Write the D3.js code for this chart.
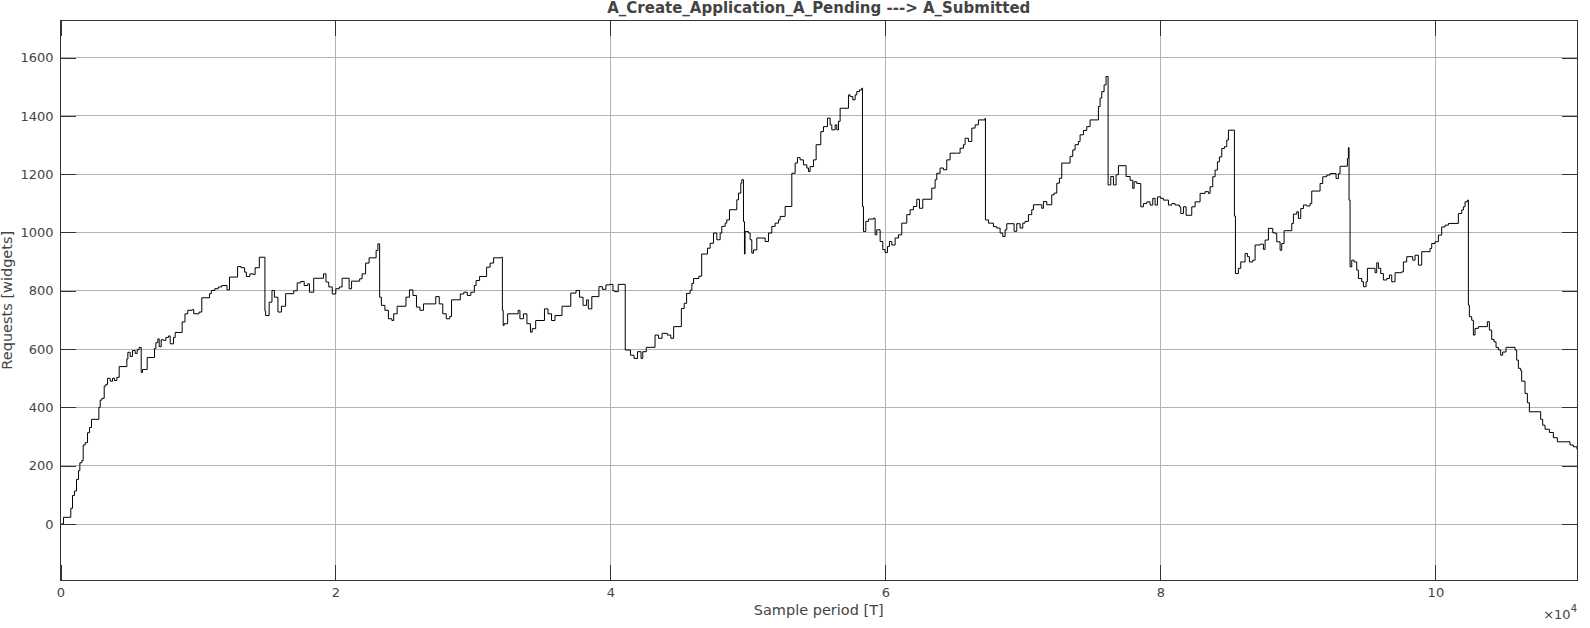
<!DOCTYPE html>
<html>
<head>
<meta charset="utf-8">
<script src="https://cdn.jsdelivr.net/npm/d3@7"></script>
<style>
  body { margin: 0; background: #fff; }
  svg { display: block; font-family: "DejaVu Sans", sans-serif; }
</style>
</head>
<body>
<script>
// sample index where each step starts, and the value held from there on
const samples = [
    0, 220, 750, 875, 1020, 1166, 1311, 1408, 1554, 1651, 1796, 1966, 2111, 2257, 2790, 2887, 3008, 3178, 3299, 3420,
    3614, 3784, 3929, 4099, 4268, 4826, 4899, 5069, 5238, 5432, 5578, 5723, 5869, 5966, 6305, 6839, 6936, 7081, 7178, 7323,
    7493, 7662, 7856, 7977, 8220, 8341, 8849, 9053, 9257, 9564, 9691, 10074, 10278, 10839, 10967, 11222, 11477, 11732, 12114, 12293,
    12880, 13135, 13390, 13517, 13773, 14028, 14155, 14461, 14869, 14921, 15176, 15380, 15558, 15814, 16069, 16375, 16962, 17216, 17471, 17726,
    17981, 18109, 18415, 19130, 19308, 19512, 19767, 20023, 20278, 20482, 20992, 21170, 21757, 21936, 22191, 22446, 22956, 23084, 23211, 23339,
    23594, 23849, 24104, 24232, 24487, 25125, 25380, 25635, 25890, 26145, 26400, 27293, 27548, 27803, 28058, 28313, 28441, 29079, 29334, 29589,
    29844, 30099, 30227, 30482, 30992, 31247, 31502, 32063, 32140, 32200, 32268, 32523, 33288, 33416, 33671, 33926, 34181, 34308, 34563, 35201,
    35456, 35711, 35966, 36476, 37114, 37497, 37752, 38007, 38262, 38390, 38645, 39162, 39417, 39672, 39927, 40182, 40310, 40565, 41075, 41458,
    41713, 41968, 42223, 42351, 42606, 43243, 43498, 43754, 44136, 44391, 44595, 45157, 45361, 45539, 45794, 45922, 46049, 46432, 46636, 47057,
    47251, 47494, 47736, 47978, 48100, 48342, 48463, 48657, 49190, 49312, 49481, 49554, 49675, 49748, 49790, 50039, 50160, 50281, 50402, 50645,
    51251, 51493, 51736, 51978, 52220, 52342, 52705, 53190, 53432, 53602, 53796, 54038, 54281, 54402, 54523, 54766, 54960, 55299, 55493, 55784,
    55978, 56099, 56341, 56462, 56584, 56705, 57311, 57432, 57626, 57796, 57917, 58111, 58280, 58329, 58402, 58571, 58765, 59129, 59250, 59371,
    59614, 59808, 59977, 60147, 60292, 60462, 60704, 60947, 61189, 61553, 61795, 62038, 62280, 62474, 62716, 63371, 63613, 63734, 63977, 64219,
    64462, 64704, 65189, 65431, 65674, 65795, 66037, 66280, 66522, 66764, 67249, 67273, 67492, 67855, 68098, 68340, 68534, 68704, 68825, 69358,
    69552, 69794, 69988, 70158, 70400, 70643, 70764, 71370, 71491, 71734, 72097, 72267, 72461, 72655, 72824, 73430, 73624, 73794, 74036, 74158,
    74400, 74642, 74885, 75491, 75612, 75733, 75903, 76048, 76194, 76389, 76582, 76776, 76946, 77503, 77796, 77990, 78087, 78281, 78572, 78766,
    79008, 79250, 79444, 79614, 79784, 80026, 80220, 80584, 80826, 81068, 81384, 81480, 81674, 81868, 82280, 82523, 82886, 83250, 83492, 83614,
    83808, 83977, 84147, 84292, 84462, 84656, 84826, 84947, 85383, 85456, 85674, 85844, 86159, 86328, 86474, 86716, 86886, 87250, 87492, 87613,
    87856, 88171, 88340, 88462, 88704, 88825, 88995, 89552, 89674, 89916, 90037, 90207, 90401, 90643, 90886, 91007, 91613, 91807, 92098, 92340,
    92776, 92946, 93067, 93600, 93673, 93721, 93794, 93916, 94085, 94279, 94400, 94643, 94764, 94958, 95055, 95612, 95734, 95855, 96024, 96218,
    96461, 96655, 96824, 97067, 97552, 97673, 97915, 98352, 98521, 98764, 99006, 99612, 99733, 99976, 100218, 100460, 100703, 100945, 101672, 101915,
    102036, 102157, 102327, 102400, 102472, 102642, 102763, 102884, 103127, 103781, 103927, 104096, 104266, 104411, 104581, 104751, 104896, 105139, 105793, 105914,
    106036, 106205, 106278, 106520, 106690, 106836, 107660, 107805, 107975, 108290, 108581, 108872, 109793, 110035, 110300
];
const requests = [
    0, 23, 54, 98, 113, 153, 183, 210, 218, 271, 279, 313, 331, 359, 400, 425, 431, 473, 479, 500,
    490, 500, 492, 503, 540, 566, 589, 575, 595, 585, 598, 606, 520, 530, 571, 602, 622, 635, 608, 632,
    630, 640, 645, 618, 640, 657, 693, 721, 733, 735, 721, 727, 776, 790, 801, 807, 813, 818, 803, 847,
    883, 879, 864, 849, 858, 856, 879, 915, 730, 715, 761, 801, 778, 727, 747, 790, 800, 827, 832, 818,
    824, 795, 843, 858, 830, 813, 789, 807, 813, 843, 807, 833, 841, 858, 895, 913, 938, 961, 778, 750,
    733, 704, 698, 721, 747, 778, 803, 784, 744, 733, 755, 780, 755, 721, 704, 712, 769, 789, 795, 784,
    795, 818, 835, 849, 881, 895, 913, 915, 733, 681, 687, 721, 733, 704, 721, 687, 658, 670, 698, 738,
    721, 698, 715, 747, 792, 801, 778, 750, 769, 738, 780, 814, 805, 820, 822, 800, 797, 822, 597, 579,
    568, 591, 568, 591, 606, 648, 637, 654, 648, 637, 677, 739, 757, 791, 802, 825, 842, 850, 926, 946,
    963, 998, 975, 998, 1021, 1032, 1043, 1078, 1112, 1135, 1169, 1181, 1037, 926, 1003, 998, 975, 929, 940, 981,
    969, 998, 1021, 1032, 1043, 1055, 1089, 1203, 1238, 1257, 1249, 1232, 1221, 1209, 1226, 1249, 1301, 1346, 1363, 1392,
    1369, 1352, 1369, 1352, 1381, 1426, 1472, 1466, 1455, 1472, 1483, 1489, 1495, 1089, 1003, 1038, 1046, 1049, 992, 1009,
    969, 941, 931, 952, 969, 957, 981, 992, 1032, 1061, 1078, 1089, 1114, 1083, 1114, 1152, 1181, 1203, 1221, 1215,
    1249, 1272, 1272, 1289, 1301, 1323, 1312, 1358, 1369, 1386, 1392, 1043, 1032, 1020, 1015, 998, 986, 1009, 1030, 1004,
    1030, 1015, 1032, 1038, 1061, 1078, 1095, 1083, 1106, 1095, 1129, 1135, 1169, 1186, 1238, 1261, 1283, 1301, 1312, 1335,
    1350, 1363, 1386, 1432, 1461, 1483, 1506, 1535, 1163, 1192, 1163, 1198, 1229, 1192, 1179, 1151, 1174, 1168, 1088, 1099,
    1105, 1094, 1117, 1094, 1122, 1117, 1111, 1094, 1099, 1094, 1088, 1065, 1088, 1059, 1088, 1105, 1134, 1140, 1134, 1157,
    1191, 1214, 1242, 1259, 1288, 1294, 1317, 1351, 1056, 859, 877, 899, 928, 917, 899, 905, 957, 960, 942, 974,
    1014, 999, 997, 968, 939, 962, 1006, 1031, 1063, 1071, 1048, 1082, 1094, 1091, 1099, 1142, 1168, 1191, 1197, 1202,
    1185, 1202, 1227, 1254, 1291, 1111, 882, 905, 899, 871, 842, 831, 814, 831, 877, 862, 896, 877, 859, 837,
    842, 854, 831, 862, 865, 899, 917, 905, 922, 888, 934, 945, 962, 968, 991, 1019, 1025, 1031, 1065, 1077,
    1088, 1105, 1111, 751, 711, 699, 648, 671, 677, 694, 665, 633, 625, 606, 597, 579, 590, 606, 597, 562,
    534, 526, 490, 448, 416, 385, 359, 339, 325, 314, 296, 282, 271, 265, 256
];

const xTicks = [0, 20000, 40000, 60000, 80000, 100000];
const yTicks = [0, 200, 400, 600, 800, 1000, 1200, 1400, 1600];

const titleText = "A_Create_Application_A_Pending ---> A_Submitted";
const xLabel = "Sample period [T]";
const yLabel = "Requests [widgets]";

const svgWidth = 1590, svgHeight = 628;
const plotLeft = 60.5, plotRight = 1577, plotTop = 20.5, plotBottom = 580;
const tickLen = 15;
const axisColor = "#333", textColor = "#444", gridColor = "#b3b3b3";

const svg = d3.select("body")
    .append("svg")
    .attr("width", svgWidth)
    .attr("height", svgHeight);

const xScale = d3.scaleLinear()
    .domain([0, 110300])
    .range([plotLeft, plotRight]);

const yScale = d3.scaleLinear()
    .domain([-192, 1727])
    .range([plotBottom, plotTop]);

// grid
svg.append("g")
    .selectAll("line.gx")
    .data(xTicks)
    .enter()
    .append("line")
    .attr("x1", d => xScale(d)).attr("x2", d => xScale(d))
    .attr("y1", plotTop).attr("y2", plotBottom)
    .attr("stroke", gridColor).attr("shape-rendering", "crispEdges");

svg.append("g")
    .selectAll("line.gy")
    .data(yTicks)
    .enter()
    .append("line")
    .attr("y1", d => yScale(d)).attr("y2", d => yScale(d))
    .attr("x1", plotLeft).attr("x2", plotRight)
    .attr("stroke", gridColor).attr("shape-rendering", "crispEdges");

// data
const pts = samples.map((s, i) => [s, requests[i]]);
const line = d3.line()
    .x(d => xScale(d[0]))
    .y(d => yScale(d[1]))
    .curve(d3.curveStepAfter);

svg.append("path")
    .datum(pts)
    .attr("d", line)
    .attr("fill", "none")
    .attr("stroke", "#000")
    .attr("stroke-width", 1);

// axes
function styleAxis(g) {
    g.select(".domain").remove();
    g.selectAll(".tick line").attr("stroke", axisColor).attr("shape-rendering", "crispEdges");
    g.selectAll(".tick text").attr("fill", textColor).style("font-size", "13px")
        .style("font-family", "DejaVu Sans, sans-serif");
}

svg.append("g")
    .attr("transform", `translate(0,${plotBottom})`)
    .call(d3.axisBottom(xScale).tickValues(xTicks).tickFormat(d => d / 1e4)
        .tickSizeInner(-tickLen).tickSizeOuter(0).tickPadding(8))
    .call(styleAxis);

svg.append("g")
    .attr("transform", `translate(0,${plotTop})`)
    .call(d3.axisTop(xScale).tickValues(xTicks).tickFormat("")
        .tickSizeInner(-tickLen).tickSizeOuter(0))
    .call(styleAxis);

svg.append("g")
    .attr("transform", `translate(${plotLeft},0)`)
    .call(d3.axisLeft(yScale).tickValues(yTicks).tickFormat(d3.format("d"))
        .tickSizeInner(-tickLen).tickSizeOuter(0).tickPadding(7))
    .call(styleAxis);

svg.append("g")
    .attr("transform", `translate(${plotRight},0)`)
    .call(d3.axisRight(yScale).tickValues(yTicks).tickFormat("")
        .tickSizeInner(-tickLen).tickSizeOuter(0))
    .call(styleAxis);

svg.append("rect")
    .attr("x", plotLeft).attr("y", plotTop)
    .attr("width", plotRight - plotLeft).attr("height", plotBottom - plotTop)
    .attr("fill", "none").attr("stroke", axisColor)
    .attr("shape-rendering", "crispEdges");

// texts
svg.append("text")
    .attr("x", (plotLeft + plotRight) / 2).attr("y", 13)
    .attr("text-anchor", "middle")
    .attr("fill", textColor)
    .style("font-size", "15px").style("font-weight", "bold")
    .text(titleText);

svg.append("text")
    .attr("x", (plotLeft + plotRight) / 2).attr("y", 615)
    .attr("text-anchor", "middle")
    .attr("fill", textColor)
    .style("font-size", "14.5px")
    .text(xLabel);

svg.append("text")
    .attr("transform", `translate(12,${(plotTop + plotBottom) / 2}) rotate(-90)`)
    .attr("text-anchor", "middle")
    .attr("fill", textColor)
    .style("font-size", "14.5px")
    .text(yLabel);

const expo = svg.append("text")
    .attr("x", plotRight).attr("y", 619)
    .attr("text-anchor", "end")
    .attr("fill", textColor)
    .style("font-size", "13px");
expo.append("tspan").text("\u00d7");
expo.append("tspan").text("10");
expo.append("tspan").attr("dy", -7).style("font-size", "10px").text("4");
</script>
</body>
</html>
